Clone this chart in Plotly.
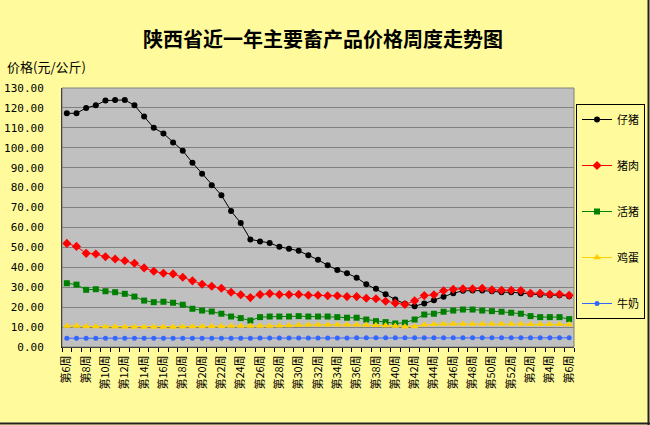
import plotly.graph_objects as go

weeks = ["第6周", "第7周", "第8周", "第9周", "第10周", "第11周", "第12周", "第13周", "第14周", "第15周",
         "第16周", "第17周", "第18周", "第19周", "第20周", "第21周", "第22周", "第23周", "第24周", "第25周",
         "第26周", "第27周", "第28周", "第29周", "第30周", "第31周", "第32周", "第33周", "第34周", "第35周",
         "第36周", "第37周", "第38周", "第39周", "第40周", "第41周", "第42周", "第43周", "第44周", "第45周",
         "第46周", "第47周", "第48周", "第49周", "第50周", "第51周", "第52周", "第1周", "第2周", "第3周",
         "第4周", "第5周", "第6周"]

piglet = [117.3, 117.3, 120, 121.3, 123.7, 124, 124, 121.3, 115.7, 110,
          107.2, 102.7, 98.5, 92.5, 87, 81.2, 76.2, 68.2, 62.3, 54,
          53, 52.2, 50.3, 49.3, 48.3, 46, 43.8, 41, 38.7, 37,
          34.8, 31.5, 29.2, 26.5, 23.8, 21.7, 20.5, 21.8, 23.5, 25.2,
          27, 28.2, 28.3, 28.3, 28, 27.5, 27.5, 27, 26.5, 26.2,
          26, 26, 25.5]
pork = [52, 50.5, 47, 46.7, 45.3, 44.2, 43.3, 42, 39.7, 38,
        37, 36.7, 35, 33.2, 31.5, 30.5, 29.5, 27.5, 26.2, 24.8,
        26.3, 26.8, 26.3, 26.3, 26.4, 26, 26, 25.7, 25.7, 25.3,
        25.3, 24.5, 24.2, 23, 22, 21.3, 23.2, 25.8, 26.2, 28.2,
        29, 29.2, 29.2, 29.5, 28.7, 28.5, 28.5, 28.3, 27, 27,
        26.5, 26.5, 26]
live_pig = [32, 31.3, 28.7, 29, 28, 27.5, 26.7, 25.3, 23.3, 22.5,
            22.7, 22.2, 21.2, 19.2, 18.3, 17.8, 16.7, 15.3, 14.5, 13.3,
            15, 15.3, 15.3, 15.3, 15.5, 15.3, 15.3, 15.3, 15, 14.7,
            14.7, 13.8, 13, 12.5, 11.8, 12.2, 13.8, 16.3, 16.7, 17.7,
            18.3, 18.8, 18.8, 18.3, 18, 17.7, 17.2, 16.7, 15.5, 15,
            15, 15, 14]
egg = [10.5, 10.6, 10.3, 10.3, 10.2, 10.2, 10.1, 10, 10, 10,
       10, 10.1, 10.2, 10.3, 10.3, 10.4, 10.4, 10.5, 10.5, 10.6,
       10.5, 10.6, 10.7, 10.8, 11, 11.2, 11.2, 11.2, 11.2, 11.2,
       11.2, 11, 10.9, 10.8, 10.6, 10.2, 10.3, 11.2, 11.4, 11.5,
       11.6, 11.6, 11.6, 11.6, 11.5, 11.5, 11.5, 11.5, 11.4, 11.4,
       11.4, 11.4, 11.3]
milk = [4.4, 4.4, 4.4, 4.4, 4.4, 4.4, 4.4, 4.4, 4.4, 4.4,
        4.4, 4.4, 4.4, 4.4, 4.4, 4.4, 4.4, 4.4, 4.4, 4.4,
        4.5, 4.5, 4.5, 4.5, 4.5, 4.5, 4.5, 4.5, 4.5, 4.5,
        4.6, 4.6, 4.6, 4.6, 4.6, 4.6, 4.6, 4.6, 4.6, 4.6,
        4.6, 4.6, 4.6, 4.6, 4.6, 4.6, 4.6, 4.6, 4.6, 4.6,
        4.6, 4.6, 4.6]

series_names = ["仔猪", "猪肉", "活猪", "鸡蛋", "牛奶"]

FONT = "Noto Sans CJK SC"
MONO = "DejaVu Sans Mono"
BG = "#FFFB9C"
x = list(range(len(weeks)))

# plot area geometry (pixels)
L, R, T, B = 62, 574, 88, 347
PW, PH = R - L, B - T

styles = [
    dict(color="#000000", symbol="circle", size=6),
    dict(color="#FF0000", symbol="diamond", size=7),
    dict(color="#008000", symbol="square", size=6),
    dict(color="#FFD000", symbol="triangle-up", size=7),
    dict(color="#3366FF", symbol="circle", size=5),
]

fig = go.Figure()
for name, vals, st in zip(series_names, [piglet, pork, live_pig, egg, milk], styles):
    fig.add_trace(go.Scatter(
        x=x, y=vals, name=name, mode="lines+markers", legendgroup=name,
        line=dict(color=st["color"], width=1),
        marker=dict(color=st["color"], symbol=st["symbol"], size=st["size"]),
    ))

fig.update_layout(
    width=650, height=425,
    margin=dict(l=L, r=650 - R, t=T, b=425 - B, autoexpand=False),
    paper_bgcolor=BG, plot_bgcolor="#C0C0C0",
    font=dict(family=FONT, size=11, color="#000000"),
    title=dict(text="<b>陕西省近一年主要畜产品价格周度走势图</b>", x=0.497, xanchor="center",
               y=1 - 40 / 425, yanchor="middle", yref="container",
               font=dict(family=FONT, size=20, color="#000000")),
    showlegend=True,
    legend=dict(x=(576 - L) / PW, y=(B - 104) / PH, xanchor="left", yanchor="top",
                bgcolor=BG, bordercolor="#000000", borderwidth=1,
                itemwidth=30, tracegroupgap=27,
                font=dict(family=FONT, size=11, color="#000000")),
)

fig.update_xaxes(
    range=[-0.5, len(weeks) - 0.5],
    tickmode="array", tickvals=x[::2], ticktext=weeks[::2],
    tickangle=-90, ticks="", showgrid=False, zeroline=False,
    showline=True, linecolor="#000000", linewidth=1,
    tickfont=dict(family=FONT, size=11),
    ticklabelstandoff=3,
    minor=dict(tickmode="linear", tick0=-0.5, dtick=1, ticks="outside",
               ticklen=4, tickcolor="#000000", showgrid=False),
)
fig.update_yaxes(
    range=[0, 130], tickmode="linear", tick0=0, dtick=10, tickformat=".2f",
    showgrid=True, gridcolor="#808080", gridwidth=1,
    showline=True, linecolor="#000000", linewidth=1,
    ticks="", ticklabelstandoff=15, zeroline=False,
    tickfont=dict(family=MONO, size=11),
)

# plot area border
fig.add_shape(type="rect", xref="paper", yref="paper", x0=0, x1=1, y0=0, y1=1,
              line=dict(color="#808080", width=1), layer="above")
# chart outer shadow (right & bottom)
fig.add_shape(type="line", xref="paper", yref="paper",
              x0=(648.5 - L) / PW, x1=(648.5 - L) / PW,
              y0=(B - 0) / PH, y1=(B - 425) / PH,
              line=dict(color="#222222", width=2))
fig.add_shape(type="line", xref="paper", yref="paper",
              x0=(0 - L) / PW, x1=(650 - L) / PW,
              y0=(B - 423.5) / PH, y1=(B - 423.5) / PH,
              line=dict(color="#222222", width=2))

fig.add_annotation(text="价格(元/公斤)", xref="paper", yref="paper",
                   x=(5 - L) / PW, y=(B - 67) / PH, xanchor="left", yanchor="middle",
                   showarrow=False, font=dict(family=FONT, size=13, color="#000000"))

fig.write_html("out.html")
